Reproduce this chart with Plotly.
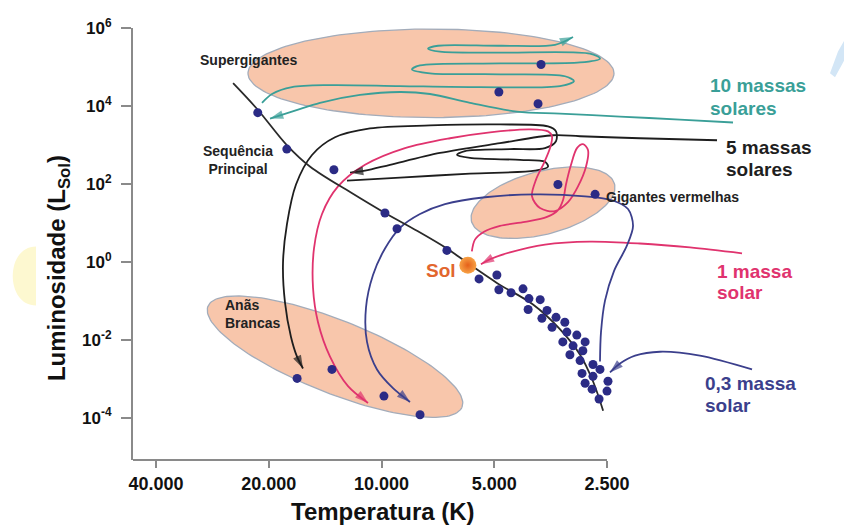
import numpy as np
import plotly.graph_objects as go

# ---------------- data ----------------
temp_ticks = [40000, 20000, 10000, 5000, 2500]
temp_tick_labels = ["40.000", "20.000", "10.000", "5.000", "2.500"]
lum_ticks = [1e6, 1e4, 1e2, 1e0, 1e-2, 1e-4]
lum_tick_labels = ["10<sup>6</sup>", "10<sup>4</sup>", "10<sup>2</sup>",
                   "10<sup>0</sup>", "10<sup>-2</sup>", "10<sup>-4</sup>"]

# main-sequence curve
ms_line_T = [24900, 21400, 17900, 15500, 12100, 9790, 8040, 6690, 5880, 4920, 3940, 3340, 2950, 2725, 2560]
ms_line_L = [3.85e4, 8.0e3, 990, 275, 60.7, 17.9, 6.28, 2.20, 0.922, 0.288, 0.0802, 0.01875, 0.00413, 8.6e-4, 1.5e-4]

# stars
ms_star_T = [21400, 17900, 13400, 9790, 9090, 6690, 5490, 4920, 4860, 4510, 4190, 4040, 3770, 4060, 3615, 3730,
             3420, 3505, 3240, 3200, 3010, 3280, 2860, 3080, 2900, 3140, 2950, 2725, 2610, 2915, 2725, 2485,
             2860, 2740, 2500, 2625]
ms_star_L = [6730, 783, 231, 17.9, 7.05, 1.96, 0.364, 0.459, 0.192, 0.161, 0.203, 0.114, 0.107, 0.0599, 0.0566,
             0.0355, 0.0376, 0.0210, 0.0282, 0.0157, 0.0132, 0.0088, 0.0088, 0.00697, 0.00522, 0.00413, 0.00292,
             0.00231, 0.00173, 0.00137, 0.00115, 8.6e-4, 7.65e-4, 5.4e-4, 4.81e-4, 3.02e-4]
supergiant_T = [3750, 4860, 3820]
supergiant_L = [1.163e5, 2.28e4, 1.137e4]
redgiant_T = [3380, 2690]
redgiant_L = [96.6, 54.0]
whitedwarf_T = [16800, 13560, 9850, 7890]
whitedwarf_L = [1.02e-3, 1.73e-3, 3.59e-4, 1.19e-4]
sun_T = [5880]
sun_L = [0.82]

# 10 solar masses
m10_pointer_T = [1152, 1596, 2308, 3338, 4348, 5804, 7422, 8925, 11413, 14595, 17020, 19847]
m10_pointer_L = [3770, 4480, 5340, 6350, 7140, 12040, 20300, 22800, 19180, 12040, 7560, 4750]
m10_track_T = [20850, 19605, 17340, 13720, 8925, 5458, 3338, 3062, 3237, 4826, 7422, 8291, 7892, 4826, 2951,
               2610, 2776, 4826, 6979, 7513, 7066, 4826, 3442, 3081]
m10_track_L = [1.204e4, 2.03e4, 3.05e4, 3.43e4, 3.24e4, 3.05e4, 3.24e4, 4.33e4, 5.79e4, 6.50e4, 6.89e4, 8.70e4,
               1.098e5, 1.233e5, 1.307e5, 1.65e5, 2.20e5, 2.34e5, 2.48e5, 2.95e5, 3.51e5, 3.51e5, 3.72e5, 5.92e5]

# 5 solar masses
m5_pointer_T = [1271, 2041, 2951, 3485, 4826, 6979, 9491, 11067, 12137]
m5_pointer_L = [1320, 1485, 1670, 1770, 1110, 621, 309, 218, 194]
m5_track_T = [12363, 8925, 5804, 3892, 3593, 3660, 4268, 5804, 6287, 5986, 4539, 3660, 3421, 3421, 3593, 4826,
              7422, 10732, 13309, 15330, 16916, 17878, 18323, 18099, 17445, 16811, 16203]
m5_track_L = [122, 145, 183, 218, 275, 368, 413, 464, 553, 697, 783, 830, 1247, 2230, 2980, 3350, 3160, 2660,
              1574, 553, 96.6, 9.44, 0.922, 0.0901, 0.01177, 0.003679, 0.00183]

# 1 solar mass
m1_pointer_T = [1090, 1501, 2041, 2776, 3660, 4539, 5133, 5425]
m1_pointer_L = [1.65, 2.34, 2.95, 3.31, 2.78, 1.747, 1.163, 0.870]
m1_track_T = [5738, 5630, 5325, 4826, 4139, 3615, 3379, 3277, 3217, 3119, 3007, 2897, 2810, 2845, 2988, 3177,
              3442, 3774, 3965, 3868, 3682, 3549, 3506, 3593, 4014, 5133, 6563, 8656, 11067, 13066, 14416,
              15143, 15236, 14775, 13724, 12287, 10865]
m1_track_L = [1.85, 3.72, 5.93, 8.40, 10.6, 14.2, 21.3, 38.1, 96.6, 309, 830, 1048, 739, 275, 86.0, 33.9, 20.1,
              23.9, 48.1, 129, 347, 830, 1670, 2230, 2510, 2105, 1485, 830, 309, 86.0, 16.9, 2.20, 0.2154,
              0.0281, 0.003679, 6.43e-4, 2.39e-4]

# 0.3 solar mass
m03_pointer_T = [1025, 1412, 1805, 2104, 2308, 2454]
m03_pointer_L = [1.728e-3, 3.90e-3, 4.92e-3, 3.90e-3, 2.45e-3, 1.45e-3]
m03_track_T = [2610, 2594, 2531, 2395, 2211, 2130, 2197, 2424, 2862, 3892, 5292, 6769, 7892, 8925, 9787,
               10537, 11000, 10932, 10281, 9318, 8393]
m03_track_L = [2.75e-3, 0.01574, 0.1012, 0.579, 2.63, 8.40, 22.6, 38.1, 48.1, 54.0, 45.4, 30.2, 16.9, 7.48,
               2.20, 0.459, 0.0673, 0.0088, 1.728e-3, 5.72e-4, 2.54e-4]

# regions (centre T, centre L)
region_centres = {"super": (7377, 6.89e4), "red": (3705, 32.9), "white": (13309, 3.68e-3)}

# ---------------- layout / style ----------------
W, H = 852, 526
OFF = 8  # page body margin of the browser
ML, MR, MT, MB = 133 - OFF, OFF, 21 - OFF, 66 + OFF
PW, PH = W - ML - MR, H - MT - MB
x_range = [4.6635, 2.7438]
y_range = [-5.086, 6.001]
px_x = PW / (x_range[0] - x_range[1])
px_y = PH / (y_range[1] - y_range[0])

FONT = "Liberation Sans, Arial, sans-serif"
TEAL = "#3a9f98"
BLACK = "#1e1e1e"
PINK = "#e0336e"
NAVY = "#3b3f8c"
DOT = "#2b2b85"
FILL = "#f8c6ab"
EDGE = "#a3acba"


def ellipse(centre, a_px, b_px, ang_deg):
    t = np.linspace(0, 2 * np.pi, 160)
    ang = np.radians(ang_deg)
    dx = a_px * np.cos(t) * np.cos(ang) - b_px * np.sin(t) * np.sin(ang)
    dy = a_px * np.cos(t) * np.sin(ang) + b_px * np.sin(t) * np.cos(ang)
    lt = np.log10(centre[0]) - dx / px_x
    ll = np.log10(centre[1]) + dy / px_y
    return 10 ** lt, 10 ** ll


def P(px, py):
    """screen pixel -> paper coordinates"""
    return (px - OFF - ML) / PW, (H - MB - (py - OFF)) / PH


fig = go.Figure()

for key, a, b, ang in [("super", 183, 45, 0), ("red", 74, 32, 15), ("white", 137, 37, -22)]:
    ex, ey = ellipse(region_centres[key], a, b, ang)
    fig.add_trace(go.Scatter(x=ex, y=ey, mode="lines", fill="toself", fillcolor=FILL,
                             line=dict(color=EDGE, width=1.3), hoverinfo="skip", showlegend=False))

tracks = [
    (m10_pointer_T, m10_pointer_L, TEAL), (m10_track_T, m10_track_L, TEAL),
    (m5_pointer_T, m5_pointer_L, BLACK), (m5_track_T, m5_track_L, BLACK),
    (m1_pointer_T, m1_pointer_L, PINK), (m1_track_T, m1_track_L, PINK),
    (m03_pointer_T, m03_pointer_L, NAVY), (m03_track_T, m03_track_L, NAVY),
]
for tx, ty, col in tracks:
    fig.add_trace(go.Scatter(x=tx, y=ty, mode="lines",
                             line=dict(color=col, width=1.8, shape="spline", smoothing=0.9),
                             hoverinfo="skip", showlegend=False))
for tx, ty, col in tracks:
    fig.add_trace(go.Scatter(x=tx[-2:], y=ty[-2:], mode="markers",
                             marker=dict(symbol="arrow", size=[0, 14], color=col,
                                         angleref="previous", line=dict(width=0)),
                             hoverinfo="skip", showlegend=False))

fig.add_trace(go.Scatter(x=ms_line_T, y=ms_line_L, mode="lines",
                         line=dict(color="#2a2a2a", width=1.8, shape="spline"),
                         hoverinfo="skip", showlegend=False))

for sx, sy in [(ms_star_T, ms_star_L), (supergiant_T, supergiant_L),
               (redgiant_T, redgiant_L), (whitedwarf_T, whitedwarf_L)]:
    fig.add_trace(go.Scatter(x=sx, y=sy, mode="markers",
                             marker=dict(color=DOT, size=9, line=dict(width=0)),
                             hoverinfo="skip", showlegend=False))

fig.add_trace(go.Scatter(x=sun_T, y=sun_L, mode="markers",
                         marker=dict(color="#f7a245", size=17, line=dict(width=0),
                                     gradient=dict(type="radial", color="#e5601a")),
                         hoverinfo="skip", showlegend=False))

annotations = []
labels = [
    ("10 massas", 1343, 3.43e4, "left", TEAL, 19),
    ("solares", 1343, 8.50e3, "left", TEAL, 19),
    ("5 massas", 1218, 880, "left", BLACK, 19),
    ("solares", 1218, 231, "left", BLACK, 19),
    ("1 massa", 1287, 0.579, "left", PINK, 19),
    ("solar", 1287, 0.161, "left", PINK, 19),
    ("0,3 massa", 1386, 7.65e-4, "left", NAVY, 19),
    ("solar", 1386, 2.01e-4, "left", NAVY, 19),
    ("Gigantes vermelhas", 2547, 45.4, "left", "#222222", 14),
    ("Supergigantes", 30898, 1.556e5, "left", "#222222", 14),
    ("Sequência<br>Principal", 24162, 401, "center", "#222222", 14),
    ("Anãs<br>Brancas", 26496, 0.0448, "left", "#222222", 14),
    ("Sol", 6249, 0.614, "right", "#e2662e", 19),
]
for txt, lx, ly, anc, col, sz in labels:
    annotations.append(dict(x=np.log10(lx), y=np.log10(ly), xref="x", yref="y", text=txt,
                            showarrow=False, xanchor=anc, yanchor="middle", align=anc,
                            font=dict(family=FONT, size=sz, color=col, weight="bold")))

tx_, ty_ = P(383, 512)
annotations.append(dict(x=tx_, y=ty_, xref="paper", yref="paper", text="Temperatura (K)",
                        showarrow=False, xanchor="center", yanchor="middle",
                        font=dict(family=FONT, size=24, color="#111111", weight="bold")))
tx_, ty_ = P(58, 265)
annotations.append(dict(x=tx_, y=ty_, xref="paper", yref="paper", text="Luminosidade (L<sub>Sol</sub>)",
                        showarrow=False, textangle=-90, xanchor="center", yanchor="middle",
                        font=dict(family=FONT, size=24, color="#111111", weight="bold")))

x_end = (x_range[0] - np.log10(2500)) / (x_range[0] - x_range[1])
shapes = [
    dict(type="line", xref="paper", yref="paper", x0=0, x1=x_end, y0=0, y1=0,
         line=dict(color="#8a8a8a", width=2)),
]
a1, a2, a3, a4 = P(36, 243), P(5, 243), P(5, 303), P(36, 303)
shapes.append(dict(type="path", xref="paper", yref="paper", layer="below",
                   path=f"M {a1[0]},{a1[1]} C {a2[0]},{a2[1]} {a3[0]},{a3[1]} {a4[0]},{a4[1]} Z",
                   fillcolor="#fdf8d0", line=dict(width=0)))
pts = [P(830, 67), P(838, 45), P(848, 27), P(852, 24), P(852, 40), P(842, 58), P(835, 71)]
shapes.append(dict(type="path", xref="paper", yref="paper", layer="below",
                   path="M " + " L ".join(f"{p[0]},{p[1]}" for p in pts) + " Z",
                   fillcolor="#d3e6f6", line=dict(width=0)))

fig.update_layout(
    width=W, height=H, margin=dict(l=ML, r=MR, t=MT, b=MB),
    paper_bgcolor="white", plot_bgcolor="white",
    showlegend=False, annotations=annotations, shapes=shapes,
    xaxis=dict(type="log", range=x_range, tickmode="array", tickvals=temp_ticks,
               ticktext=temp_tick_labels, ticks="outside", ticklen=7, tickwidth=2,
               tickcolor="#8a8a8a", showline=False, showgrid=False, zeroline=False,
               ticklabelstandoff=0,
               tickfont=dict(family=FONT, size=18, color="#111111", weight="bold")),
    yaxis=dict(type="log", range=y_range, tickmode="array", tickvals=lum_ticks,
               ticktext=lum_tick_labels, ticks="outside", ticklen=10, tickwidth=2,
               tickcolor="#8a8a8a", showline=True, linecolor="#8a8a8a", linewidth=2,
               showgrid=False, zeroline=False, ticklabelstandoff=6,
               tickfont=dict(family=FONT, size=17, color="#111111", weight="bold")),
)

fig.write_html("out.html")
